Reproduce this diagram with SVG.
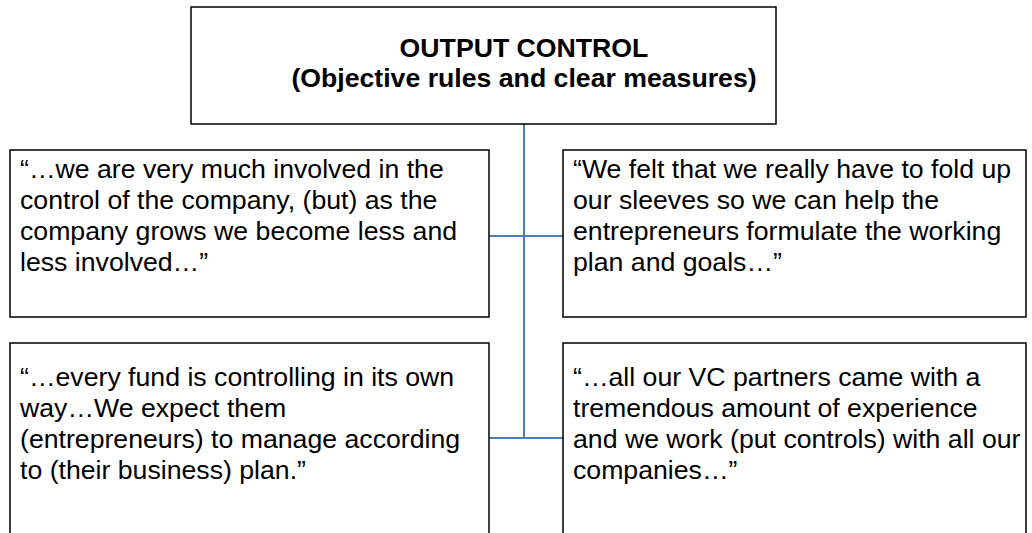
<svg xmlns="http://www.w3.org/2000/svg" width="1032" height="533" viewBox="0 0 1032 533">
<style>
.box{fill:#fff;stroke:#000;stroke-width:1.5}
.t{font-family:"Liberation Sans",Arial,sans-serif;font-size:26.67px;fill:#000}
.b{font-weight:bold;text-anchor:middle}
.c{stroke:#4a7ebb;stroke-width:2;fill:none}
</style>
<rect width="1032" height="533" fill="#fff"/>
<g id="connectors">
<line class="c" x1="524" y1="124" x2="524" y2="438"/>
<line class="c" x1="489" y1="236" x2="563" y2="236"/>
<line class="c" x1="489" y1="438" x2="563" y2="438"/>
</g>
<g id="top">
<rect class="box" x="191" y="7" width="585" height="117"/>
<text class="t b" x="524" y="57">OUTPUT CONTROL</text>
<text class="t b" x="524" y="87">(Objective rules and clear measures)</text>
</g>
<g id="q1">
<rect class="box" x="10" y="150" width="479" height="167"/>
<text class="t" x="20" y="178">“…we are very much involved in the</text>
<text class="t" x="20" y="209">control of the company, (but) as the</text>
<text class="t" x="20" y="240">company grows we become less and</text>
<text class="t" x="20" y="271">less involved…”</text>
</g>
<g id="q2">
<rect class="box" x="563" y="150" width="463" height="167"/>
<text class="t" x="573" y="178">“We felt that we really have to fold up</text>
<text class="t" x="573" y="209">our sleeves so we can help the</text>
<text class="t" x="573" y="240">entrepreneurs formulate the working</text>
<text class="t" x="573" y="271">plan and goals…”</text>
</g>
<g id="q3">
<rect class="box" x="10" y="343" width="479" height="200"/>
<text class="t" x="20" y="386">“…every fund is controlling in its own</text>
<text class="t" x="20" y="417">way…We expect them</text>
<text class="t" x="20" y="448">(entrepreneurs) to manage according</text>
<text class="t" x="20" y="479">to (their business) plan.”</text>
</g>
<g id="q4">
<rect class="box" x="563" y="343" width="463" height="200"/>
<text class="t" x="573" y="386">“…all our VC partners came with a</text>
<text class="t" x="573" y="417">tremendous amount of experience</text>
<text class="t" x="573" y="448">and we work (put controls) with all our</text>
<text class="t" x="573" y="479">companies…”</text>
</g>
</svg>
